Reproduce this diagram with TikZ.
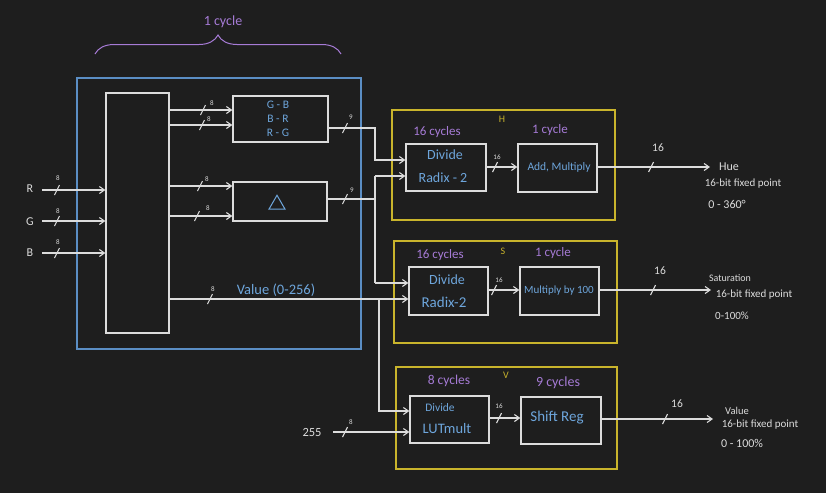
\documentclass[tikz,border=0pt]{standalone}
\usepackage{fontspec}
\setmainfont{Carlito}
\usetikzlibrary{arrows.meta,decorations.pathreplacing,shapes.geometric}
\definecolor{bg}{HTML}{1E1E1E}
\definecolor{wire}{HTML}{DCDCDC}
\definecolor{bluebox}{HTML}{5B8EC4}
\definecolor{yel}{HTML}{C9B42C}
\definecolor{purp}{HTML}{A67BD6}
\definecolor{btxt}{HTML}{6EA6DC}
\newcommand\fs[1]{\fontsize{#1}{#1}\selectfont}
\newcommand\busmark[2]{\draw[wirel] (#1,#2) ++(-2.5,5) -- ++(5,-10);}
\tikzset{
  wirel/.style={draw=wire, line width=1.1pt},
  arr/.style={wirel, -{Straight Barb[length=5pt,width=7pt,line width=1.1pt]}},
  sz/.style 2 args={minimum width=#1, minimum height=#2},
  blk/.style={draw=wire, line width=1.3pt, inner sep=0},
  frame/.style={draw=#1, line width=1.5pt, inner sep=0},
  btx/.style={text=btxt, inner sep=0, font=\fs{11}},
  ptx/.style={text=purp, inner sep=0, font=\fs{13}},
  wtx/.style={text=wire, inner sep=0, font=\fs{9}},
  lbl/.style={text=wire, inner sep=0, font=\fs{7}},
  ytx/.style={text=yel, inner sep=0, font=\fs{10}},
}
\begin{document}
\begin{tikzpicture}[x=1pt,y=-1pt]
\fill[bg] (0,0) rectangle (826,493);
\useasboundingbox (0,0) rectangle (826,493);

% brace
\draw[purp, line width=1pt, decorate, decoration={brace, amplitude=19pt}] (95,54) -- (341,54);
\node[ptx, font=\fs{14}] (cyc0) at (223,22) {1 cycle};

% frames
\node[frame=bluebox, sz={284}{271}] (outer) at (219,213.5) {};
\node[frame=yel, sz={223}{110}] (H) at (503.5,165) {};
\node[frame=yel, sz={223}{102}] (S) at (505.5,292) {};
\node[frame=yel, sz={221}{102}] (V) at (506.5,418) {};

% blocks
\node[blk, sz={63}{240}] (inner) at (137.5,213) {};
\node[blk, sz={95}{46}] (gb) at (280.5,119) {};
\node[blk, sz={94}{39}] (delta) at (280,201.5) {};
\node[blk, sz={80}{47}] (hdiv) at (446,167.5) {};
\node[blk, sz={79}{48}] (hadd) at (557.5,168) {};
\node[blk, sz={79}{48}] (sdiv) at (448.5,291) {};
\node[blk, sz={79}{48}] (smul) at (559.5,291) {};
\node[blk, sz={79}{47}] (vdiv) at (449.5,419.5) {};
\node[blk, sz={80}{47}] (vsh) at (561,420.5) {};

% block texts
\node[btx, font=\fs{11.5}] (tgb) at (278,105) {G - B};
\node[btx, font=\fs{11.5}] (tbr) at (278,118.5) {B - R};
\node[btx, font=\fs{11.5}] (trg) at (278,133) {R - G};
\node[regular polygon, regular polygon sides=3, draw=btxt, line width=1pt, minimum size=18.5pt, inner sep=0] (tri) at (277,204.5) {};
\node[btx, font=\fs{14}] (hd1) at (445,155) {Divide};
\node[btx, font=\fs{14}] (hd2) at (443,178) {Radix - 2};
\node[btx, font=\fs{11.5}] (ha) at (559,167) {Add, Multiply};
\node[btx, font=\fs{14}] (sd1) at (447,280) {Divide};
\node[btx, font=\fs{15}] (sd2) at (444,302) {Radix-2};
\node[btx, font=\fs{11}] (sm) at (559,291) {Multiply by 100};
\node[btx, font=\fs{11.5}] (vd1) at (440,408) {Divide};
\node[btx, font=\fs{14.5}] (vd2) at (447,429) {LUTmult};
\node[btx, font=\fs{15}] (vs) at (557,418) {Shift Reg};

% cycle labels
\node[ytx] (lH) at (502,119) {H};
\node[ytx] (lS) at (503,251) {S};
\node[ytx] (lV) at (506,375) {V};
\node[ptx] (c1) at (437,132) {16 cycles};
\node[ptx] (c2) at (550,130) {1 cycle};
\node[ptx] (c3) at (440,255) {16 cycles};
\node[ptx] (c4) at (553,253) {1 cycle};
\node[ptx, font=\fs{13.5}] (c5) at (449,381) {8 cycles};
\node[ptx, font=\fs{14}] (c6) at (558,383) {9 cycles};

% inputs
\node[wtx, font=\fs{12}] (R) at (30,189) {R};
\node[wtx, font=\fs{12}] (G) at (30,222) {G};
\node[wtx, font=\fs{12}] (B) at (30,253) {B};
\coordinate (ri) at (42,190);
\coordinate (gi) at (42,221);
\coordinate (bi) at (42,253);
\draw[arr] (ri) -- (inner.west |- ri);
\draw[arr] (gi) -- (inner.west |- gi);
\draw[arr] (bi) -- (inner.west |- bi);
\busmark{57}{190}\busmark{57}{221}\busmark{57}{253}
\node[lbl] (l1) at (58,178) {8};
\node[lbl] (l2) at (58,211) {8};
\node[lbl] (l3) at (58,242) {8};

% inner -> gb, delta
\coordinate (ya) at (0,110);
\coordinate (yb) at (0,125);
\coordinate (yc) at (0,186);
\coordinate (yd) at (0,216);
\draw[arr] (inner.east |- ya) -- (gb.west |- ya);
\draw[arr] (inner.east |- yb) -- (gb.west |- yb);
\draw[arr] (inner.east |- yc) -- (delta.west |- yc);
\draw[arr] (inner.east |- yd) -- (delta.west |- yd);
\busmark{203}{110}\busmark{202}{125}\busmark{200}{186}\busmark{197}{216}
\node[lbl] (l4) at (212,103) {8};
\node[lbl] (l5) at (209,119) {8};
\node[lbl] (l6) at (207,179) {8};
\node[lbl] (l7) at (208,208) {8};

% gb -> hdiv
\coordinate (j1) at (375,128);
\coordinate (y160) at (0,160);
\draw[arr] (gb.east |- j1) -- (j1) |- (hdiv.west |- y160);
\busmark{345}{128}
\node[lbl] (l8) at (351,117) {9};

% delta -> hdiv, sdiv
\coordinate (j2) at (375,199);
\coordinate (j3) at (375,176);
\coordinate (j4) at (375,283);
\draw[wirel] (delta.east |- j2) -- (j2);
\draw[wirel] (j3) -- (j4);
\draw[arr] (j3) -- (hdiv.west |- j3);
\draw[arr] (j4) -- (sdiv.west |- j4);
\busmark{345}{199}
\node[lbl] (l9) at (352,190) {9};

% value
\coordinate (yv) at (0,299);
\coordinate (j5) at (379,299);
\coordinate (y411) at (0,411);
\draw[arr] (inner.east |- yv) -- (sdiv.west |- yv);
\draw[arr] (j5) |- (vdiv.west |- y411);
\busmark{210}{299}
\node[lbl] (l10) at (213,289) {8};
\node[btx, font=\fs{14.5}] (val) at (276,290) {Value (0-256)};

% 255
\node[wtx, font=\fs{12.5}] (n255) at (312,432) {255};
\coordinate (k255) at (333,432);
\draw[arr] (k255) -- (vdiv.west |- k255);
\busmark{345}{432}
\node[lbl] (l11) at (351,422) {8};

% inner connections
\coordinate (y167) at (0,167);
\coordinate (y290) at (0,290);
\coordinate (y418) at (0,418);
\draw[arr] (hdiv.east |- y167) -- (hadd.west |- y167);
\draw[arr] (sdiv.east |- y290) -- (smul.west |- y290);
\draw[arr] (vdiv.east |- y418) -- (vsh.west |- y418);
\busmark{495}{167}\busmark{494}{290}\busmark{499}{418}
\node[lbl] (l12) at (497,157) {16};
\node[lbl] (l13) at (499,280) {16};
\node[lbl] (l14) at (499,406) {16};

% outputs
\coordinate (ho) at (710,167);
\coordinate (so) at (711,290);
\coordinate (vo) at (713,419);
\draw[arr] (hadd.east |- ho) -- (ho);
\draw[arr] (smul.east |- so) -- (so);
\draw[arr] (vsh.east |- vo) -- (vo);
\busmark{651}{167}\busmark{653}{290}\busmark{665}{419}
\node[wtx, font=\fs{11.5}] (l15) at (658,148) {16};
\node[wtx, font=\fs{11.5}] (l16) at (660,271) {16};
\node[wtx, font=\fs{11.5}] (l17) at (677,404) {16};

\node[wtx, font=\fs{12}] (hue) at (729,167) {Hue};
\node[wtx, font=\fs{11}] (hue2) at (743,184) {16-bit fixed point};
\node[wtx, font=\fs{12}] (hue3) at (727,204) {0 - 360°};
\node[wtx, font=\fs{10}] (sat) at (730,278) {Saturation};
\node[wtx, font=\fs{11}] (sat2) at (754,295) {16-bit fixed point};
\node[wtx, font=\fs{11}] (sat3) at (732,316) {0-100\%};
\node[wtx, font=\fs{10.5}] (vv) at (737,411) {Value};
\node[wtx, font=\fs{11}] (vv2) at (760,425) {16-bit fixed point};
\node[wtx, font=\fs{12}] (vv3) at (742,443) {0 - 100\%};
\end{tikzpicture}
\end{document}
